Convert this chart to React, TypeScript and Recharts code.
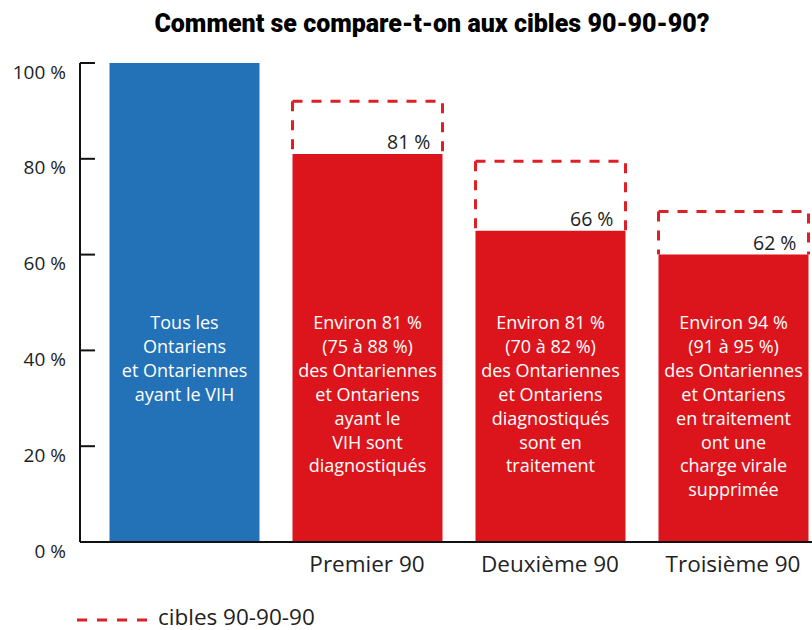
import { BarChart, Bar, XAxis, YAxis, Cell, LabelList, Legend } from "recharts";

const categories = ["", "Premier 90", "Deuxième 90", "Troisième 90"];
const values = [100, 81, 65, 60];
const targets = [null, 92, 79.5, 69];
const valueLabels = ["", "81 %", "66 %", "62 %"];
const descriptions = [
  ["Tous les", "Ontariens", "et Ontariennes", "ayant le VIH"],
  ["Environ 81 %", "(75 à 88 %)", "des Ontariennes", "et Ontariens", "ayant le", "VIH sont", "diagnostiqués"],
  ["Environ 81 %", "(70 à 82 %)", "des Ontariennes", "et Ontariens", "diagnostiqués", "sont en", "traitement"],
  ["Environ 94 %", "(91 à 95 %)", "des Ontariennes", "et Ontariens", "en traitement", "ont une", "charge virale", "supprimée"],
];
const yTicks = [0, 20, 40, 60, 80, 100];

const BLUE = "#2372b7";
const RED = "#dc151c";
const DASH_RED = "#de1f26";
const FONT = '"Open Sans", sans-serif';

const data = categories.map((name, i) => ({
  name,
  value: values[i],
  gap: targets[i] == null ? null : (targets[i] as number) - values[i],
  pct: valueLabels[i],
  desc: descriptions[i].join("|"),
}));

const YTick = (props: any) => {
  const { x, y, payload } = props;
  return (
    <g>
      <line x1={x + 14} x2={x + 29} y1={y} y2={y} stroke="#111" strokeWidth={2} />
      <text x={x} y={y + 15.5} textAnchor="end" fontSize={19} fill="#222" fontFamily={FONT}>
        {payload.value} %
      </text>
    </g>
  );
};

const XTick = (props: any) => {
  const { x, y, payload } = props;
  return (
    <text x={x} y={y + 30} textAnchor="middle" fontSize={22.5} fill="#222" fontFamily={FONT}>
      {payload.value}
    </text>
  );
};

// open-bottom dashed box for the 90-90-90 target
const TargetShape = (props: any) => {
  const { x, y, width, height } = props;
  if (!height) return null;
  return (
    <g fill="none" stroke={DASH_RED} strokeWidth={3} strokeDasharray="10 9">
      <path d={`M${x},${y} L${x + width},${y} L${x + width},${y + height}`} />
      <path d={`M${x},${y} L${x},${y + height}`} />
    </g>
  );
};

const renderPct = (props: any) => {
  const { x, y, width, value } = props;
  if (!value) return null;
  return (
    <text x={x + width - 12} y={y - 5} textAnchor="end" fontSize={19.5} fill="#222" fontFamily={FONT}>
      {value}
    </text>
  );
};

const renderDesc = (props: any) => {
  const { x, y, width, height, value } = props;
  const lines = String(value).split("|");
  const bottom = y + height;
  return (
    <text textAnchor="middle" fontSize={18} fill="#fff" fontFamily={FONT}>
      {lines.map((l, i) => (
        <tspan key={i} x={x + width / 2} y={bottom - 213 + i * 23.9}>
          {l}
        </tspan>
      ))}
    </text>
  );
};

const LegendContent = () => (
  <div style={{ height: 48 }}>
    <svg width={400} height={48}>
      <line x1={77} x2={147} y1={38} y2={38} stroke={DASH_RED} strokeWidth={3} strokeDasharray="10 10" />
      <text x={158} y={42.5} fontSize={22.5} fill="#222" fontFamily={FONT}>
        cibles 90-90-90
      </text>
    </svg>
  </div>
);

export default function App() {
  return (
    <div style={{ position: "absolute", left: 0, top: 0, width: 812, height: 630, overflow: "hidden", background: "#fff" }}>
      <div
        style={{
          position: "absolute",
          top: 11,
          left: 0,
          width: 864,
          textAlign: "center",
          fontFamily: "Roboto, sans-serif",
          fontWeight: 900,
          fontSize: 25,
          lineHeight: "25px",
          color: "#000",
        }}
      >
        Comment se compare-t-on aux cibles 90-90-90?
      </div>
      <BarChart width={824.5} height={630} data={data} margin={{ top: 63, right: 0, bottom: 0, left: 0 }} barSize={150}>
        <XAxis
          dataKey="name"
          interval={0}
          padding={{ left: 12.5, right: 0 }}
          height={40}
          tickLine={false}
          tickSize={0}
          tickMargin={0}
          tick={<XTick />}
          axisLine={{ stroke: "#111", strokeWidth: 2 }}
        />
        <YAxis
          domain={[0, 100]}
          ticks={yTicks}
          width={80}
          tickLine={false}
          tickSize={0}
          tickMargin={14}
          tick={<YTick />}
          axisLine={{ stroke: "#111", strokeWidth: 2 }}
        />
        <Legend verticalAlign="bottom" align="left" content={<LegendContent />} wrapperStyle={{ left: 0, bottom: 0 }} />
        <Bar dataKey="value" stackId="a" isAnimationActive={false}>
          {data.map((d, i) => (
            <Cell key={i} fill={i === 0 ? BLUE : RED} />
          ))}
          <LabelList dataKey="desc" content={renderDesc} />
          <LabelList dataKey="pct" content={renderPct} />
        </Bar>
        <Bar dataKey="gap" stackId="a" shape={<TargetShape />} isAnimationActive={false} legendType="none" />
      </BarChart>
    </div>
  );
}
